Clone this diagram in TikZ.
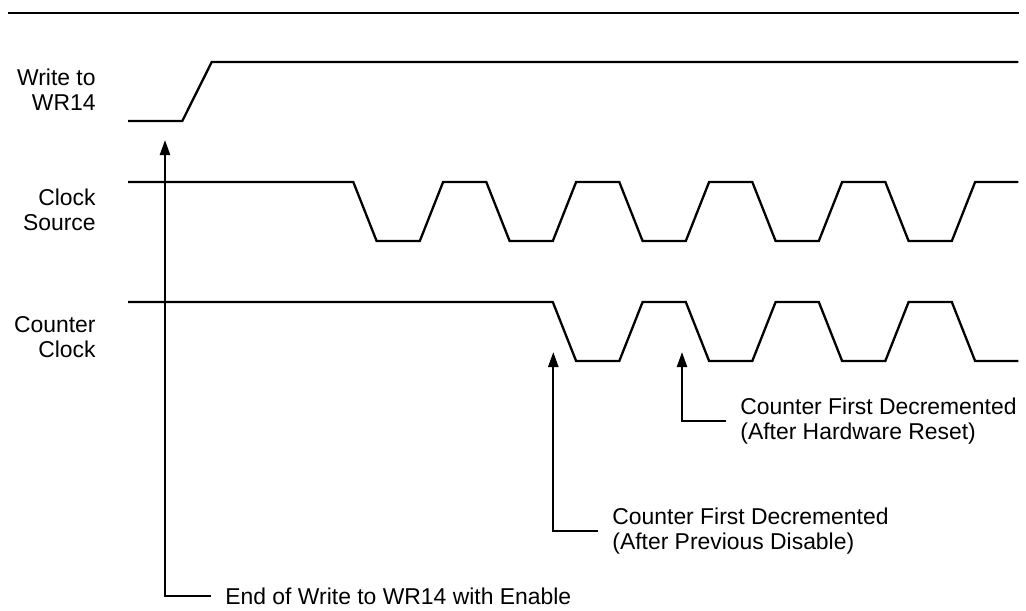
\documentclass[tikz,border=0pt]{standalone}
\usepackage{fontspec}
\setmainfont{Liberation Sans}
\usetikzlibrary{positioning, arrows.meta}

\begin{document}
\begin{tikzpicture}[x=0.5pt, y=-0.5pt, line join=miter,
    wave/.style={line width=1.15pt},
    signame/.style={anchor=east, align=right, inner sep=0pt, font=\fontsize{11.45}{12.5}\selectfont},
    note/.style={anchor=west, align=left, inner xsep=7pt, inner ysep=0pt, font=\fontsize{11.45}{12.5}\selectfont},
    pointer/.style={line width=1.15pt, -{Triangle[length=7.5pt, width=5pt]}}]
    \useasboundingbox (0,0) rectangle (1026,610);
    \draw[line width=1.4pt] (8,13) -- (1019,13);

    % signal names
    \node[signame] (wr) at (96,90) {Write to\\WR14};
    \node[signame] (clk) at (96,210) {Clock\\Source};
    \node[signame] (cnt) at (96,337) {Counter\\Clock};

    % waveforms
    \draw[wave] (128,121) -- (182.3,121) -- (211.7,62) -- (1018.3,62);
    \draw[wave] (128,182) -- (353.3,182)
        \foreach \k in {0,...,4} { -- ++(23.3,59) -- ++(43.2,0) -- ++(23.3,-59) -- ++(43.2,0) };
    \draw[wave] (128,302) -- (552.8,302)
        \foreach \k in {0,...,2} { -- ++(23.3,59) -- ++(43.2,0) -- ++(23.3,-59) -- ++(43.2,0) }
        -- ++(23.3,59) -- ++(43.2,0);

    % pointers
    \coordinate (tipA) at (553.3,352);
    \coordinate (tipB) at (682,352);
    \coordinate (tipC) at (165,140);
    \node[note] (hwreset) at (726,421) {Counter First Decremented\\(After Hardware Reset)};
    \node[note] (prevdis) at (598,531) {Counter First Decremented\\(After Previous Disable)};
    \node[note] (wrend) at (211,596) {End of Write to WR14 with Enable};

    \draw[pointer] (hwreset.west) -| (tipB);
    \draw[pointer] (prevdis.west) -| (tipA);
    \draw[pointer] (wrend.west) -| (tipC);
\end{tikzpicture}
\end{document}
